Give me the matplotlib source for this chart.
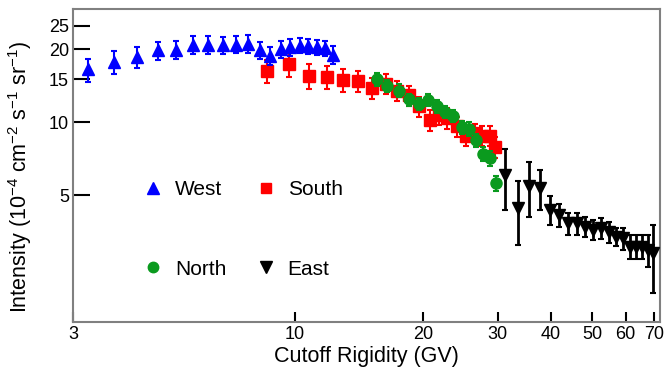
import matplotlib
matplotlib.use("Agg")
import matplotlib.pyplot as plt
from matplotlib.lines import Line2D
from matplotlib.ticker import FixedLocator, FixedFormatter, NullLocator

plt.rcParams['font.family'] = ['Liberation Sans', 'DejaVu Sans']
plt.rcParams['mathtext.default'] = 'regular'

# West (blue up triangles)
west_x = [3.25, 3.75, 4.25, 4.75, 5.25, 5.75, 6.25, 6.75, 7.25, 7.75,
          8.25, 8.75, 9.25, 9.75, 10.25, 10.75, 11.25, 11.75, 12.25]
west_y = [16.5, 17.7, 18.6, 19.8, 19.9, 20.9, 20.9, 20.8, 20.9, 21.0,
          19.9, 18.8, 20.0, 20.4, 20.7, 20.6, 20.4, 20.2, 19.0]
west_err = [1.8, 1.9, 1.8, 1.7, 1.7, 1.8, 1.8, 1.7, 1.7, 1.8,
            1.6, 1.6, 1.6, 1.6, 1.5, 1.5, 1.5, 1.5, 1.6]

# South (red squares)
south_x = [8.6, 9.7, 10.8, 11.9, 13.0, 14.1, 15.2, 16.4, 17.4, 18.5,
           19.6, 20.8, 21.8, 22.8, 24.0, 25.3, 26.5, 27.5, 28.7, 29.6]
south_y = [16.3, 17.3, 15.5, 15.4, 14.9, 14.8, 13.8, 14.4, 13.5, 12.9,
           11.6, 10.2, 10.7, 10.4, 9.6, 8.8, 9.0, 8.8, 8.8, 7.9]
south_err = [1.8, 2.0, 1.8, 1.7, 1.6, 1.5, 1.4, 1.4, 1.3, 1.2,
             1.1, 1.0, 1.0, 1.0, 0.9, 0.8, 0.8, 0.8, 0.8, 0.8]

# North (green circles)
north_x = [15.6, 16.5, 17.6, 18.5, 19.6, 20.5, 21.6, 22.6, 23.6, 24.7,
           25.7, 26.6, 27.7, 28.8, 29.7]
north_y = [15.0, 14.1, 13.5, 12.4, 11.9, 12.3, 11.6, 11.0, 10.6, 9.5,
           9.4, 8.4, 7.4, 7.1, 5.6]
north_err = [0.9, 0.8, 0.8, 0.7, 0.7, 0.7, 0.7, 0.6, 0.6, 0.6,
             0.6, 0.5, 0.5, 0.5, 0.4]

# East (black down triangles)
east_x = [31.2, 33.4, 35.6, 37.8, 39.9, 41.9, 44.0, 46.1, 48.2, 50.4,
          52.5, 54.7, 56.9, 59.1, 61.3, 63.5, 65.6, 67.6, 69.6]
east_y = [6.05, 4.4, 5.45, 5.35, 4.35, 4.15, 3.82, 3.82, 3.7, 3.6,
          3.65, 3.53, 3.37, 3.32, 3.06, 3.06, 3.06, 2.97, 2.87]
east_err = [1.7, 1.3, 1.4, 1.0, 0.6, 0.45, 0.4, 0.4, 0.35, 0.35,
            0.35, 0.35, 0.3, 0.35, 0.35, 0.35, 0.35, 0.45, 0.9]

x_ticks = [3, 10, 20, 30, 40, 50, 60, 70]
y_ticks = [5, 10, 15, 20, 25]

blue = '#0000ff'
red = '#ff0000'
green = '#0a9a1e'
black = '#000000'

fig = plt.figure(figsize=(6.66, 3.71), dpi=100)
ax = fig.add_axes([0.1096, 0.133, 0.8814, 0.8427])

ax.errorbar(south_x, south_y, yerr=south_err, fmt='s', color=red, ms=8.4,
            elinewidth=1.5, capsize=2, capthick=1.5, zorder=2)
ax.errorbar(west_x, west_y, yerr=west_err, fmt='^', color=blue, ms=8,
            elinewidth=1.5, capsize=2, capthick=1.5, zorder=3)
ax.errorbar(north_x, north_y, yerr=north_err, fmt='o', color=green, ms=8,
            elinewidth=1.5, capsize=2, capthick=1.5, zorder=4)
ax.errorbar(east_x, east_y, yerr=east_err, fmt='v', color=black, ms=8.5,
            elinewidth=2, capsize=2, capthick=1.5, zorder=5)

ax.set_xscale('log')
ax.set_yscale('log')
ax.set_xlim(3, 72.3)
ax.set_ylim(1.5, 29.3)

ax.xaxis.set_major_locator(FixedLocator(x_ticks))
ax.xaxis.set_major_formatter(FixedFormatter([str(t) for t in x_ticks]))
ax.xaxis.set_minor_locator(NullLocator())
ax.yaxis.set_major_locator(FixedLocator(y_ticks))
ax.yaxis.set_major_formatter(FixedFormatter([str(t) for t in y_ticks]))
ax.yaxis.set_minor_locator(NullLocator())

ax.tick_params(axis='x', direction='in', length=7.2, width=1.5, labelsize=13, pad=3)
ax.tick_params(axis='y', direction='in', length=12.2, width=1.5, labelsize=13, pad=3)

for s in ax.spines.values():
    s.set_color('#808080')
    s.set_linewidth(1.5)

ax.set_xlabel('Cutoff Rigidity (GV)', fontsize=15.5, labelpad=2)
ax.set_ylabel('Intensity (10$^{-4}$ cm$^{-2}$ s$^{-1}$ sr$^{-1}$)', fontsize=15.5)
ax.yaxis.set_label_coords(-0.066, 0.463)

handles = [
    Line2D([], [], ls='none', marker='^', color=blue, ms=8),
    Line2D([], [], ls='none', marker='o', color=green, ms=7.5),
    Line2D([], [], ls='none', marker='s', color=red, ms=7.5),
    Line2D([], [], ls='none', marker='v', color=black, ms=8),
]
labels = ['West', 'North', 'South', 'East']
ax.legend(handles, labels, ncol=2, loc='center left',
          bbox_to_anchor=(142.6 / 666, (371 - 229.5) / 371), bbox_transform=fig.transFigure,
          frameon=False, fontsize=15, handlelength=1.0, handletextpad=0.56,
          columnspacing=1.38, labelspacing=2.9, borderpad=0, borderaxespad=0)

fig.savefig('out.png', dpi=100)
